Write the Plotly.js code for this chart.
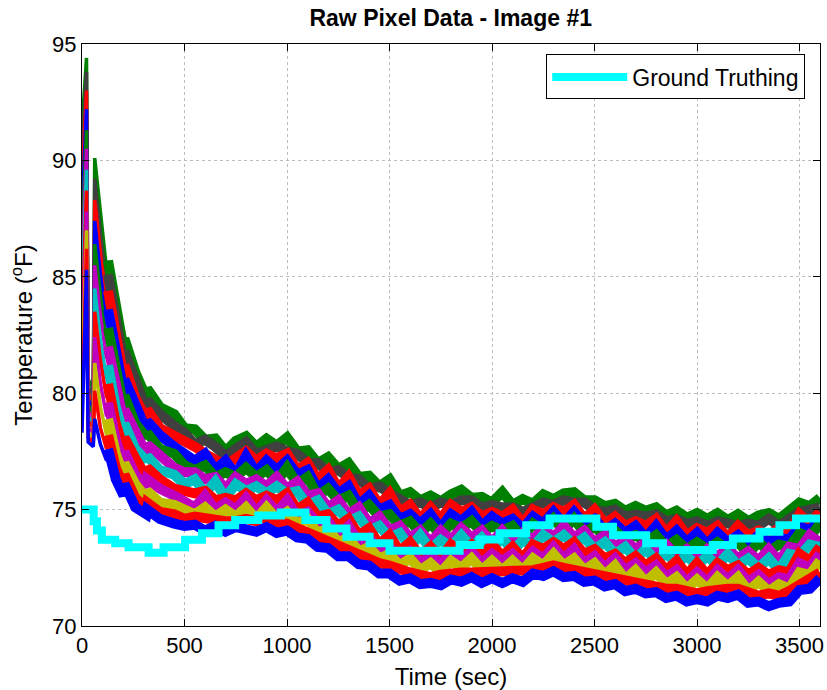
<!DOCTYPE html>
<html>
<head>
<meta charset="utf-8">
<script src="https://cdn.plot.ly/plotly-3.0.1.min.js"></script>
<style>html,body{margin:0;padding:0;background:#fff;}#chart{width:827px;height:690px;}</style>
</head>
<body>
<div id="chart"></div>
<script>
// Sample times (sec) shared by every pixel series
const timeSec = [0, 22, 30, 55, 62, 90, 120, 127, 165, 203, 207, 260, 314, 318, 380, 450, 500,
  550, 600, 650, 700, 750, 800, 850, 900, 950, 1000,
  1050, 1100, 1150, 1200, 1250, 1300, 1350, 1400, 1450, 1500,
  1550, 1600, 1650, 1700, 1750, 1800, 1850, 1900, 1950, 2000,
  2050, 2100, 2150, 2200, 2250, 2300, 2350, 2400, 2450, 2500,
  2550, 2600, 2650, 2700, 2750, 2800, 2850, 2900, 2950, 3000,
  3050, 3100, 3150, 3200, 3250, 3300, 3350, 3400, 3450, 3500,
  3550, 3600];

// Pixel temperature series (deg F), top of bundle to bottom
const pix0 = [91.4, 94.4, 80.6, 80.2, 90.1, 87.6, 85.3, 85.7, 83.9, 81.9, 82.35, 80.9, 79.8, 80.2, 79.4, 79.1, 78.5,
  78.45, 78.0, 78.05, 77.5, 77.95, 78.15, 77.7, 78.05, 77.75, 78.1,
  77.5, 77.55, 77.0, 77.25, 76.75, 77.0, 76.4, 76.45, 76.0, 76.3,
  75.6, 75.75, 75.4, 75.6, 75.35, 75.65, 75.85, 75.5, 75.55, 75.3,
  75.75, 75.2, 75.45, 75.25, 75.65, 75.45, 75.7, 75.75, 75.4, 75.4,
  75.15, 75.25, 74.95, 75.15, 74.95, 75.1, 74.75, 74.95, 74.65, 74.85,
  74.6, 74.85, 74.55, 74.8, 74.5, 74.75, 74.85, 74.6, 74.95, 75.3,
  75.15, 75.5];
const pix1 = [90.2, 93.8, 80.3, 79.9, 89.2, 86.8, 84.6, 85.1, 83.2, 81.3, 81.8, 80.5, 79.3, 79.7, 79.1, 78.6, 78.3,
  77.8, 78.0, 77.7, 77.3, 77.6, 77.9, 77.4, 77.6, 77.7, 77.5,
  77.4, 77.0, 77.0, 76.6, 76.7, 76.4, 76.3, 75.9, 76.0, 75.7,
  75.5, 75.2, 75.3, 75.1, 75.3, 75.2, 75.4, 75.4, 75.1, 75.2,
  75.1, 75.1, 74.9, 75.1, 75.3, 75.2, 75.4, 75.3, 75.3, 75.0,
  74.9, 75.0, 74.7, 74.8, 74.7, 74.8, 74.5, 74.6, 74.4, 74.5,
  74.3, 74.5, 74.4, 74.3, 74.4, 74.3, 74.6, 74.3, 74.6, 74.9,
  75.0, 75.1];
const pix2 = [89.0, 93.0, 80.0, 79.6, 88.3, 86.0, 83.9, 84.4, 82.5, 80.7, 81.2, 79.8, 78.9, 79.3, 78.5, 78.2, 77.9,
  77.7, 77.4, 77.2, 76.9, 77.2, 77.5, 77.1, 77.4, 77.2, 77.4,
  76.7, 77.0, 76.3, 76.7, 75.9, 76.4, 75.6, 75.9, 75.2, 75.7,
  74.9, 75.2, 74.6, 75.1, 74.6, 75.2, 74.9, 75.1, 74.7, 74.9,
  74.7, 75.0, 74.4, 75.0, 74.8, 75.1, 74.9, 75.2, 74.6, 75.0,
  74.4, 74.7, 74.3, 74.5, 74.3, 74.6, 74.0, 74.5, 73.9, 74.2,
  74.0, 74.3, 73.8, 74.3, 73.9, 74.1, 73.9, 74.2, 74.0, 74.8,
  74.4, 74.9];
const pix3 = [87.8, 92.2, 79.7, 79.4, 87.4, 85.1, 83.1, 83.6, 81.8, 80.1, 80.6, 79.4, 78.4, 78.8, 78.2, 77.7, 77.4,
  77.1, 77.4, 76.7, 77.1, 76.5, 77.3, 76.6, 77.1, 76.7, 77.1,
  76.5, 76.7, 75.9, 76.3, 75.7, 76.0, 75.2, 75.6, 75.0, 75.2,
  74.6, 74.8, 74.4, 74.8, 74.2, 74.8, 74.5, 74.9, 74.3, 74.7,
  74.4, 74.6, 74.2, 74.7, 74.4, 74.9, 74.4, 74.9, 74.4, 74.6,
  74.1, 74.4, 74.0, 74.3, 73.8, 74.3, 73.7, 74.1, 73.6, 74.0,
  73.5, 74.0, 73.6, 73.9, 73.5, 73.9, 73.6, 73.8, 73.7, 74.3,
  74.1, 74.6];
const pix4 = [86.6, 91.3, 79.5, 79.1, 86.4, 84.2, 82.3, 82.8, 81.0, 79.4, 79.9, 78.7, 78.1, 78.3, 77.6, 77.4, 76.9,
  76.7, 76.9, 76.4, 76.6, 76.4, 76.8, 76.4, 76.7, 76.2, 76.8,
  76.1, 76.4, 75.6, 75.9, 75.4, 75.6, 74.9, 75.2, 74.7, 74.8,
  74.3, 74.5, 74.0, 74.4, 73.9, 74.4, 74.2, 74.5, 74.0, 74.3,
  74.1, 74.3, 73.8, 74.4, 74.1, 74.6, 74.1, 74.6, 74.0, 74.3,
  73.8, 74.1, 73.7, 73.9, 73.6, 73.9, 73.4, 73.7, 73.3, 73.6,
  73.3, 73.6, 73.3, 73.6, 73.1, 73.6, 73.2, 73.5, 73.4, 74.0,
  73.8, 74.4];
const pix5 = [85.4, 90.5, 79.2, 78.9, 85.5, 83.3, 81.5, 82.0, 80.2, 78.8, 79.3, 78.3, 77.4, 77.8, 77.3, 76.8, 76.6,
  76.6, 76.3, 76.4, 75.9, 76.4, 76.1, 76.3, 76.0, 76.4, 75.9,
  76.2, 75.6, 75.7, 75.1, 75.4, 74.8, 75.1, 74.4, 74.7, 74.1,
  74.3, 73.8, 74.1, 73.6, 74.1, 73.7, 74.2, 73.8, 74.1, 73.6,
  74.1, 73.6, 74.0, 73.7, 74.2, 73.8, 74.3, 73.8, 74.1, 73.6,
  73.9, 73.4, 73.7, 73.3, 73.6, 73.2, 73.5, 73.0, 73.3, 72.9,
  73.3, 73.0, 73.3, 72.9, 73.2, 72.8, 73.3, 72.8, 73.4, 73.3,
  73.9, 73.6];
const pix6 = [84.2, 89.6, 79.0, 78.7, 84.5, 82.3, 80.6, 81.2, 79.4, 78.2, 78.7, 77.6, 77.1, 77.3, 76.7, 76.5, 76.1,
  76.3, 75.7, 76.2, 75.5, 76.1, 75.8, 76.0, 75.7, 76.0, 75.7,
  75.8, 75.2, 75.4, 74.8, 75.0, 74.5, 74.7, 74.1, 74.3, 73.8,
  74.0, 73.4, 73.9, 73.3, 73.7, 73.4, 73.9, 73.4, 73.8, 73.3,
  73.8, 73.2, 73.7, 73.4, 73.9, 73.6, 73.9, 73.5, 73.8, 73.3,
  73.6, 73.1, 73.4, 72.9, 73.3, 72.8, 73.1, 72.7, 73.0, 72.6,
  73.0, 72.6, 73.1, 72.6, 72.9, 72.5, 72.9, 72.4, 73.1, 73.0,
  73.5, 73.4];
const pix7 = [83.0, 88.7, 78.8, 78.5, 83.5, 81.4, 79.8, 80.4, 78.7, 77.6, 78.1, 77.2, 76.4, 76.8, 76.3, 75.9, 75.8,
  75.7, 75.8, 75.4, 75.5, 75.4, 75.7, 75.4, 75.6, 75.4, 75.7,
  75.0, 75.3, 74.7, 74.8, 74.3, 74.6, 73.9, 74.2, 73.5, 73.9,
  73.2, 73.6, 73.0, 73.4, 72.9, 73.5, 73.2, 73.5, 73.0, 73.5,
  73.0, 73.4, 72.9, 73.5, 73.3, 73.6, 73.3, 73.6, 73.1, 73.3,
  72.9, 73.1, 72.7, 73.0, 72.6, 72.9, 72.4, 72.8, 72.2, 72.7,
  72.2, 72.7, 72.4, 72.6, 72.2, 72.5, 72.2, 72.4, 72.3, 73.1,
  72.8, 73.4];
const pix8 = [81.8, 87.8, 78.5, 78.3, 82.4, 80.4, 79.0, 79.6, 78.0, 77.0, 77.5, 76.5, 76.0, 76.3, 75.9, 75.6, 75.4,
  75.1, 75.6, 75.0, 75.3, 75.0, 75.5, 74.9, 75.4, 74.9, 75.4,
  74.7, 74.9, 74.4, 74.5, 73.9, 74.3, 73.6, 73.8, 73.2, 73.4,
  72.9, 73.2, 72.7, 73.0, 72.7, 73.1, 72.8, 73.2, 72.7, 73.1,
  72.8, 73.1, 72.7, 73.2, 72.9, 73.4, 72.9, 73.3, 72.7, 73.0,
  72.5, 72.9, 72.4, 72.7, 72.3, 72.6, 72.1, 72.4, 71.9, 72.3,
  71.9, 72.4, 72.0, 72.4, 71.9, 72.2, 71.8, 72.1, 72.0, 72.7,
  72.5, 73.1];
const pix9 = [80.6, 87.0, 78.3, 78.1, 81.3, 79.4, 78.2, 78.9, 77.4, 76.5, 77.0, 76.1, 75.5, 75.8, 75.3, 75.2, 75.0,
  74.8, 75.1, 74.7, 75.0, 74.7, 75.1, 74.6, 75.1, 74.6, 74.9,
  74.4, 74.6, 74.0, 74.2, 73.6, 73.8, 73.2, 73.4, 72.9, 73.1,
  72.6, 72.9, 72.4, 72.7, 72.3, 72.8, 72.5, 72.9, 72.4, 72.8,
  72.4, 72.8, 72.4, 72.9, 72.6, 73.1, 72.6, 72.9, 72.4, 72.7,
  72.2, 72.6, 72.0, 72.4, 71.9, 72.3, 71.8, 72.1, 71.6, 72.0,
  71.6, 72.1, 71.7, 72.1, 71.5, 71.9, 71.5, 71.8, 71.6, 72.3,
  72.2, 72.8];
const pix10 = [79.4, 86.2, 78.1, 77.9, 80.1, 78.5, 77.6, 78.2, 76.8, 76.0, 76.5, 75.5, 75.1, 75.3, 74.9, 74.8, 74.6,
  74.7, 74.6, 74.5, 74.5, 74.5, 74.6, 74.5, 74.5, 74.5, 74.4,
  74.2, 74.0, 73.8, 73.6, 73.4, 73.3, 73.1, 72.9, 72.7, 72.6,
  72.4, 72.3, 72.2, 72.1, 72.2, 72.3, 72.3, 72.3, 72.3, 72.3,
  72.3, 72.3, 72.3, 72.4, 72.5, 72.6, 72.5, 72.4, 72.3, 72.2,
  72.1, 72.1, 71.9, 71.9, 71.8, 71.7, 71.6, 71.6, 71.5, 71.4,
  71.5, 71.6, 71.6, 71.6, 71.4, 71.3, 71.4, 71.3, 71.5, 71.8,
  72.0, 72.3];
const pix11 = [78.3, 85.3, 77.9, 77.7, 78.9, 77.8, 77.1, 77.6, 76.3, 75.6, 76.1, 75.1, 74.8, 75.0, 74.6, 74.4, 74.3,
  74.35, 74.1, 74.3, 74.05, 74.25, 74.15, 74.05, 74.25, 74.0, 74.1,
  73.8, 73.75, 73.4, 73.35, 73.0, 73.0, 72.65, 72.6, 72.25, 72.25,
  71.95, 72.05, 71.8, 71.85, 71.75, 72.0, 71.9, 72.1, 71.85, 72.05,
  71.85, 72.05, 71.9, 72.25, 72.15, 72.35, 72.1, 72.15, 71.9, 71.95,
  71.7, 71.8, 71.5, 71.6, 71.4, 71.45, 71.2, 71.3, 71.05, 71.15,
  71.05, 71.3, 71.2, 71.35, 71.0, 71.05, 70.85, 71.0, 71.05, 71.55,
  71.6, 72.05];

// Ground truth step series
const gtTime = [0, 57, 73, 97, 162, 227, 325, 398, 503, 585, 666, 747, 860, 970, 1090, 1192, 1290, 1403, 1500, 1842,
  1940, 2037, 2167, 2281, 2509, 2590, 2752, 2834, 3077, 3175, 3305, 3402, 3483, 3600];
const gtTemp = [75.0, 74.5, 74.1, 73.7, 73.55, 73.38, 73.15, 73.38, 73.7, 73.98, 74.33, 74.55, 74.75, 74.88, 74.55, 74.19, 73.83, 73.55, 73.23, 73.48,
  73.72, 73.98, 74.33, 74.62, 74.26, 73.9, 73.55, 73.26, 73.48, 73.76, 74.05, 74.33, 74.62, 74.62];

const xTicks = [0, 500, 1000, 1500, 2000, 2500, 3000, 3500];
const yTicks = [70, 75, 80, 85, 90, 95];

const pixelSeries = [pix0, pix1, pix2, pix3, pix4, pix5, pix6, pix7, pix8, pix9, pix10, pix11];
const lineColors = ['#008000', '#404040', '#FF0000', '#0000FF', '#008000', '#BF00BF',
                    '#00BFBF', '#FF0000', '#BF00BF', '#BFBF00', '#FF0000', '#0000FF'];

// Spike phase (first samples) drawn thinner, the rest as a dense band
const SPLIT = 7;
const traces = [];
pixelSeries.forEach((ys, i) => {
  traces.push({
    type: 'scatter', mode: 'lines', x: timeSec.slice(0, SPLIT + 1), y: ys.slice(0, SPLIT + 1),
    line: {color: lineColors[i], width: 3.5}, showlegend: false, hoverinfo: 'skip'
  });
});
pixelSeries.forEach((ys, i) => {
  traces.push({
    type: 'scatter', mode: 'lines', x: timeSec.slice(SPLIT), y: ys.slice(SPLIT),
    line: {color: lineColors[i], width: 10}, showlegend: false, hoverinfo: 'skip'
  });
});
traces.push({
  type: 'scatter', mode: 'lines', x: gtTime, y: gtTemp, name: 'Ground Truthing',
  line: {color: '#00FFFF', width: 8, shape: 'hv'}
});

const fontFam = 'Liberation Sans, Arial, sans-serif';
const layout = {
  width: 827, height: 690,
  margin: {l: 82, r: 7, t: 44, b: 64},
  paper_bgcolor: '#fff', plot_bgcolor: '#fff',
  font: {family: fontFam, size: 22, color: '#000'},
  title: {text: '<b>Raw Pixel Data - Image #1</b>', font: {family: fontFam, size: 23, color: '#000'},
          x: 0.545, xanchor: 'center', y: 0.974, yanchor: 'middle'},
  xaxis: {range: [0, 3600], tickvals: xTicks, ticktext: xTicks.map(String),
          ticks: 'inside', ticklen: 7, tickcolor: '#000', showline: true, linecolor: '#000', linewidth: 1,
          mirror: 'ticks', showgrid: true, gridcolor: '#bdbdbd', griddash: 'dot', gridwidth: 1,
          zeroline: false, tickfont: {size: 22},
          title: {text: 'Time (sec)', font: {size: 24}, standoff: 10}},
  yaxis: {range: [70, 95], tickvals: yTicks, ticktext: yTicks.map(String),
          ticks: 'inside', ticklen: 7, tickcolor: '#000', showline: true, linecolor: '#000', linewidth: 1,
          mirror: 'ticks', showgrid: true, gridcolor: '#bdbdbd', griddash: 'dot', gridwidth: 1,
          zeroline: false, tickfont: {size: 22},
          title: {text: 'Temperature (<sup>o</sup>F)', font: {size: 24}, standoff: 12}},
  legend: {x: 0.98, xanchor: 'right', y: 0.982, yanchor: 'top', bgcolor: '#fff',
           bordercolor: '#000', borderwidth: 1, font: {size: 23}, itemwidth: 75,
           tracegroupgap: 0},
  showlegend: true
};

Plotly.newPlot('chart', traces, layout, {staticPlot: true});
</script>
</body>
</html>
